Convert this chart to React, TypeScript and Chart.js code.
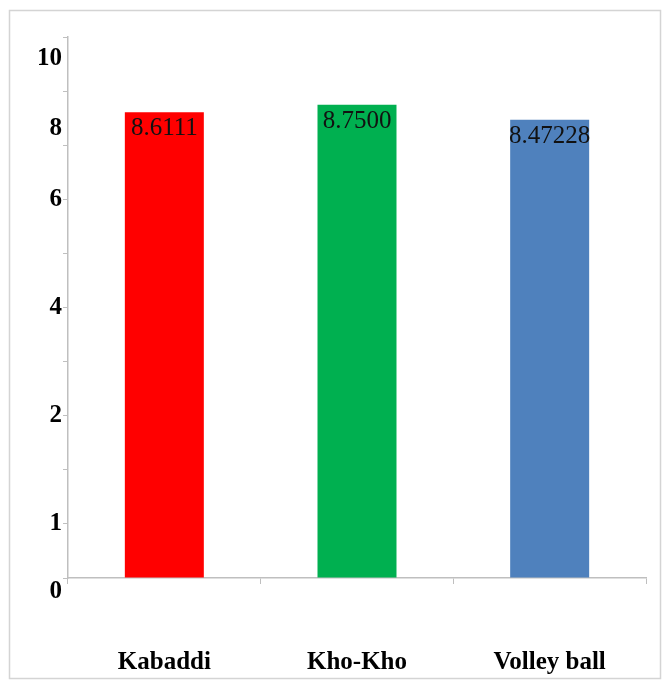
import React, { useEffect, useRef } from "react";
import { Chart, registerables } from "chart.js";

Chart.register(...registerables);

const categories = ["Kabaddi", "Kho-Kho", "Volley ball"];
const values = [8.6111, 8.75, 8.47228];
const valueLabels = ["8.6111", "8.7500", "8.47228"];
const barColors = ["#ff0000", "#00b050", "#4f81bd"];
const yTickLabels = ["0", "1", "2", "4", "6", "8", "10"];
const yTickLabelValues = [-0.25, 1, 3, 5, 7, 8.3, 9.6];

const SERIF = "'Liberation Serif', 'Times New Roman', serif";

const framePlugin = {
  id: "frame",
  beforeDraw(chart: any) {
    const ctx = chart.ctx;
    ctx.save();
    ctx.fillStyle = "#ffffff";
    ctx.fillRect(0, 0, chart.width, chart.height);
    ctx.strokeStyle = "#d4d4d4";
    ctx.lineWidth = 1.5;
    ctx.strokeRect(9.5, 10.5, 651, 668);
    ctx.restore();
  },
};

const valueLabelPlugin = {
  id: "valueLabels",
  afterDatasetsDraw(chart: any) {
    const ctx = chart.ctx;
    const meta = chart.getDatasetMeta(0);
    ctx.save();
    ctx.font = `normal 25px ${SERIF}`;
    ctx.fillStyle = "#111111";
    ctx.textAlign = "center";
    ctx.textBaseline = "top";
    meta.data.forEach((bar: any, i: number) => {
      ctx.fillText(valueLabels[i], bar.x, bar.y + 4);
    });
    ctx.restore();
  },
};

export default function App() {
  const ref = useRef<HTMLCanvasElement>(null);

  useEffect(() => {
    if (!ref.current) return;
    const chart = new Chart(ref.current, {
      type: "bar",
      data: {
        labels: categories,
        datasets: [
          {
            data: values,
            backgroundColor: barColors,
            borderWidth: 0,
            barPercentage: 0.41,
            categoryPercentage: 1,
          },
        ],
      },
      options: {
        responsive: false,
        animation: false,
        layout: { padding: { left: 0, right: 17, top: 37, bottom: 0 } },
        plugins: {
          legend: { display: false },
          tooltip: { enabled: false },
        },
        scales: {
          x: {
            type: "category",
            offset: true,
            grid: {
              offset: true,
              drawOnChartArea: false,
              drawTicks: true,
              tickLength: 6,
              color: "#bfbfbf",
            },
            border: { display: true, color: "#bfbfbf", width: 1.5 },
            ticks: {
              padding: 64,
              color: "#000000",
              font: { family: SERIF, size: 25, weight: "bold" },
              maxRotation: 0,
              autoSkip: false,
            },
            afterFit(scale: any) {
              scale.height = 102;
              scale.paddingLeft = 0;
              scale.paddingRight = 0;
            },
          },
          y: {
            type: "linear",
            position: "left",
            min: 0,
            max: 10,
            weight: 0,
            ticks: { display: false, stepSize: 1 },
            grid: {
              drawOnChartArea: false,
              drawTicks: true,
              tickLength: 5,
              color: "#bfbfbf",
            },
            border: { display: true, color: "#bfbfbf", width: 1.5 },
            afterFit(scale: any) {
              scale.width = 5;
              scale.paddingTop = 0;
              scale.paddingBottom = 0;
            },
          },
          yLabels: {
            type: "linear",
            position: "left",
            min: 0,
            max: 10,
            weight: 1,
            grid: { display: false, drawTicks: false },
            border: { display: false },
            ticks: {
              padding: 1,
              color: "#000000",
              font: { family: SERIF, size: 25, weight: "bold" },
              callback: (v: any) => {
                const idx = yTickLabelValues.indexOf(Number(v));
                return idx >= 0 ? yTickLabels[idx] : "";
              },
            },
            afterBuildTicks(scale: any) {
              scale.ticks = yTickLabelValues.map((v) => ({ value: v }));
            },
            afterFit(scale: any) {
              scale.width = 63;
              scale.paddingTop = 0;
              scale.paddingBottom = 0;
            },
          },
        },
      },
      plugins: [framePlugin, valueLabelPlugin],
    } as any);
    return () => chart.destroy();
  }, []);

  return (
    <div style={{ position: "absolute", left: 0, top: 0, width: 663, height: 680 }}>
      <canvas ref={ref} width={663} height={680} />
    </div>
  );
}
